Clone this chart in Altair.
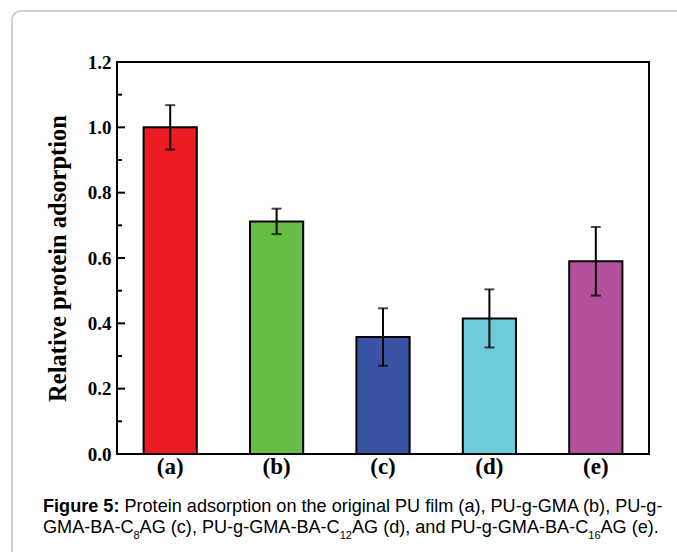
import altair as alt
import pandas as pd

# ---- data ----
categories = ["(a)", "(b)", "(c)", "(d)", "(e)"]
values = [1.000, 0.712, 0.358, 0.415, 0.590]
errors = [0.068, 0.039, 0.088, 0.089, 0.105]
colors = ["#ED1C24", "#67BE45", "#3A53A4", "#6DCCDC", "#B5509C"]
major_ticks = [0.0, 0.2, 0.4, 0.6, 0.8, 1.0, 1.2]
minor_ticks = [0.1, 0.3, 0.5, 0.7, 0.9, 1.1]

W, H = 532, 392
LEFT, TOP = 117, 62
SERIF = "Liberation Serif"
SANS = "Liberation Sans"

df = pd.DataFrame({
    "cat": categories,
    "val": values,
    "lo": [v - e for v, e in zip(values, errors)],
    "hi": [v + e for v, e in zip(values, errors)],
})

xenc = alt.X("cat:N", sort=categories,
             scale=alt.Scale(paddingInner=0.5, paddingOuter=0.25),
             axis=alt.Axis(title=None, labelAngle=0, ticks=False, domain=False,
                           labelFont=SERIF, labelFontWeight="bold", labelFontSize=23,
                           labelColor="black", labelPadding=1))
yscale = alt.Scale(domain=[0, 1.2], nice=False)

bars = alt.Chart(df).mark_bar(stroke="black", strokeWidth=2).encode(
    x=xenc,
    y=alt.Y("val:Q", scale=yscale,
            axis=alt.Axis(title="Relative protein adsorption", values=major_ticks,
                          format=".1f", ticks=False, domain=False, grid=False,
                          labelFont=SERIF, labelFontWeight="bold", labelFontSize=19,
                          labelColor="black", labelPadding=6,
                          titleFont=SERIF, titleFontWeight="bold", titleFontSize=24.5,
                          titleColor="black", titlePadding=17)),
    color=alt.Color("cat:N", sort=categories,
                    scale=alt.Scale(domain=categories, range=colors), legend=None),
)

err_rule = alt.Chart(df).mark_rule(color="black", strokeWidth=2).encode(
    x=alt.X("cat:N", sort=categories), y=alt.Y("lo:Q", scale=yscale), y2="hi:Q")
cap_lo = alt.Chart(df).mark_tick(color="black", thickness=2, size=10).encode(
    x=alt.X("cat:N", sort=categories), y=alt.Y("lo:Q", scale=yscale))
cap_hi = alt.Chart(df).mark_tick(color="black", thickness=2, size=10).encode(
    x=alt.X("cat:N", sort=categories), y=alt.Y("hi:Q", scale=yscale))

maj = alt.Chart(pd.DataFrame({"v": major_ticks})).mark_rule(color="black", strokeWidth=2).encode(
    y=alt.Y("v:Q", scale=yscale), x=alt.value(0), x2=alt.value(8))
mnr = alt.Chart(pd.DataFrame({"v": minor_ticks})).mark_rule(color="black", strokeWidth=2).encode(
    y=alt.Y("v:Q", scale=yscale), x=alt.value(0), x2=alt.value(5))

# outer rounded frame
box = alt.Chart(pd.DataFrame({"k": [0]})).mark_rect(
    fill=None, stroke="#c4c4c4", strokeWidth=1.5, cornerRadius=9).encode(
    x=alt.value(12 - LEFT), x2=alt.value(690 - LEFT),
    y=alt.value(11 - TOP), y2=alt.value(570 - TOP))

# ---- caption ----
AR = {' ': 278, '(': 333, ')': 333, ',': 278, '-': 333, '.': 278, ':': 278,
      'A': 667, 'B': 667, 'C': 722, 'G': 778, 'M': 833, 'P': 667, 'U': 722,
      'a': 556, 'b': 556, 'c': 500, 'd': 556, 'e': 556, 'f': 278, 'g': 556,
      'h': 556, 'i': 222, 'l': 222, 'm': 833, 'n': 556, 'o': 556, 'p': 556,
      'r': 333, 's': 500, 't': 278}
ARB = {'F': 611, 'i': 278, 'g': 611, 'u': 611, 'r': 389, 'e': 556, ' ': 278,
       '5': 556, ':': 333}


def tw(s, size, table):
    return sum(table.get(c, 556) for c in s) * size / 1000.0


CAP = 18.1
SUB = 11
line1_bold = "Figure 5:"
line1_reg = "Protein adsorption on the original PU film (a), PU-g-GMA (b), PU-g-"
line2 = [("GMA-BA-C", False), ("8", True), ("AG (c), PU-g-GMA-BA-C", False), ("12", True),
         ("AG (d), and PU-g-GMA-BA-C", False), ("16", True), ("AG (e).", False)]

x0 = 43 - LEFT
y1 = 511.5 - TOP
y2 = 533 - TOP


def txt(s, x, y, size, weight="normal"):
    return alt.Chart(pd.DataFrame({"t": [s]})).mark_text(
        align="left", baseline="alphabetic", font=SANS, fontSize=size,
        fontWeight=weight, color="black").encode(
        text="t:N", x=alt.value(x), y=alt.value(y))


caption = [txt(line1_bold, x0, y1, CAP, "bold"),
           txt(line1_reg, x0 + tw(line1_bold + " ", CAP, ARB), y1, CAP)]
cx = x0
for s, sub in line2:
    if sub:
        caption.append(txt(s, cx, y2 + 6, SUB))
        cx += tw(s, SUB, AR)
    else:
        caption.append(txt(s, cx, y2, CAP))
        cx += tw(s, CAP, AR)

chart = alt.layer(box, bars, err_rule, cap_lo, cap_hi, maj, mnr, *caption).properties(
    width=W, height=H,
    autosize=alt.AutoSizeParams(type="none"),
    padding={"left": LEFT, "top": TOP, "right": 677 - LEFT - W, "bottom": 552 - TOP - H},
    background="white",
).configure_view(stroke="black", strokeWidth=2)

chart.save("out.html", embed_options={"renderer": "svg", "actions": False})
